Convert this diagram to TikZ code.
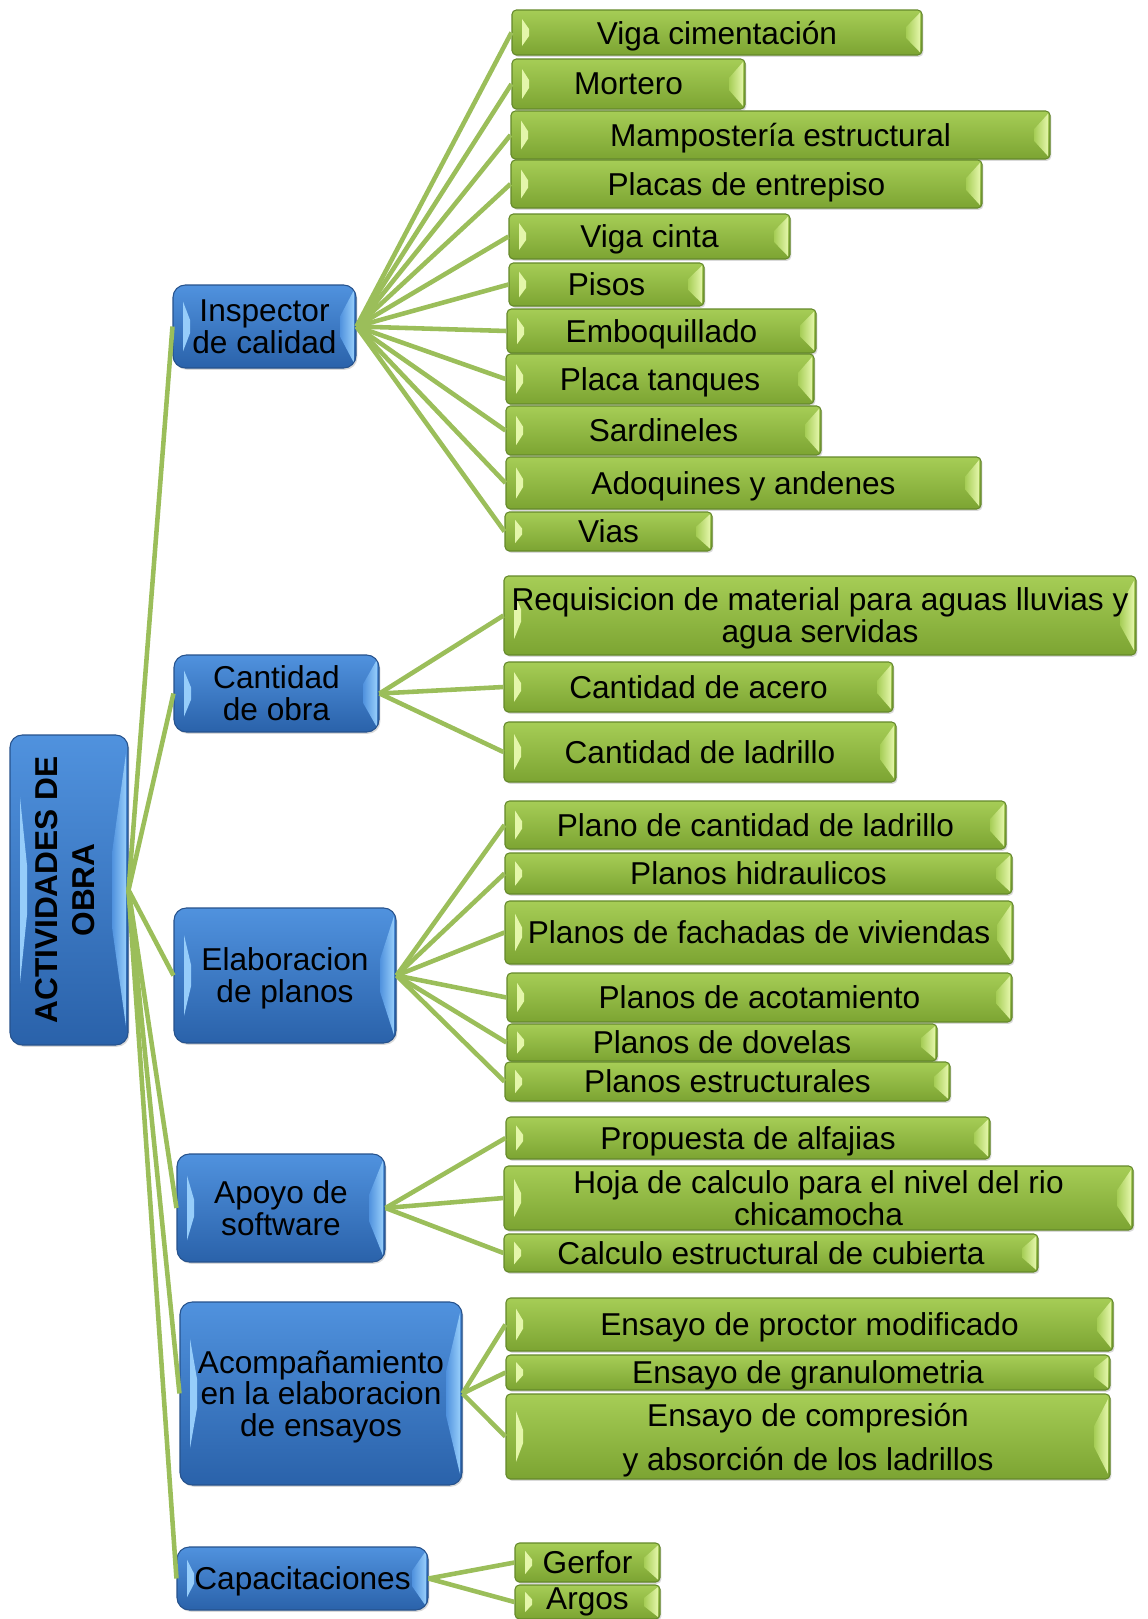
\documentclass[tikz,border=0pt]{standalone}
\usepackage{fontspec}
\setmainfont{Liberation Sans}
\usetikzlibrary{calc,shadows}

\definecolor{azulA}{RGB}{80,146,222}
\definecolor{azulB}{RGB}{42,98,170}
\definecolor{azulborde}{RGB}{38,82,140}
\definecolor{azulluz}{RGB}{150,205,250}
\definecolor{hojaA}{RGB}{166,205,86}
\definecolor{hojaB}{RGB}{124,164,50}
\definecolor{hojaborde}{RGB}{100,136,42}
\definecolor{hojaluz}{RGB}{228,246,170}
\definecolor{verderama}{RGB}{155,190,90}

\tikzset{
  bisel/.style 2 args={path picture={
      \path (path picture bounding box.north west) coordinate (pa)
            (path picture bounding box.south west) coordinate (pb)
            (path picture bounding box.north east) coordinate (pc)
            (path picture bounding box.south east) coordinate (pd);
      \fill[#1, sharp corners] ($(pa)!0.2!(pb)+(10,0)$) -- ($(pa)!0.42!(pb)+(17,0)$)
        -- ($(pa)!0.58!(pb)+(17,0)$) -- ($(pa)!0.8!(pb)+(10,0)$) -- cycle;
      \shade[sharp corners, left color=#2, right color=#1] ($(pc)!0.06!(pd)+(-2,0)$)
        -- ($(pc)!0.94!(pd)+(-2,0)$) -- ($(pc)!0.62!(pd)+(-16,0)$)
        -- ($(pc)!0.38!(pd)+(-16,0)$) -- cycle;
    }},
  wh/.style 2 args={minimum width=#1*0.02cm, minimum height=#2*0.02cm},
  sombra/.style={drop shadow={opacity=0.3, shadow xshift=0.8pt, shadow yshift=-1pt}},
  caja/.style={rounded corners=7pt, draw=azulborde, line width=0.6pt,
    top color=azulA, bottom color=azulB, bisel={azulluz}{azulA}, sombra,
    inner sep=0pt, align=center, text depth=0pt},
  hoja/.style={rounded corners=2.5pt, draw=hojaborde, line width=0.6pt,
    top color=hojaA, bottom color=hojaB, bisel={hojaluz}{hojaA}, sombra,
    inner sep=0pt, align=center, text depth=0pt},
  ramal/.style={draw=verderama, line width=2.6pt}
}

\begin{document}
\begin{tikzpicture}[x=0.02cm, y=-0.02cm, font=\fontsize{18}{18.2}\selectfont]
  \useasboundingbox (0,0) rectangle (1147,1619);

  % raiz
  \node[caja, wh={118}{310}, font=\fontsize{18}{21}\selectfont\bfseries] (raiz) at (69,890)
    {\rotatebox{90}{\begin{tabular}{@{}c@{}}ACTIVIDADES DE\\OBRA\end{tabular}}};

  % actividades
  \node[caja, wh={183}{83}] (insp) at (264.5,326.5) {Inspector\\de calidad};
  \node[caja, wh={205}{77}] (cant) at (276.5,693.5) {Cantidad\\de obra};
  \node[caja, wh={222}{135}] (elab) at (285,975.5) {Elaboracion\\de planos};
  \node[caja, wh={208}{108}] (apoyo) at (281,1208) {Apoyo de\\software};
  \node[caja, wh={282}{183}] (acomp) at (321,1393.5) {Acompañamiento\\en la elaboracion\\de ensayos};
  \node[caja, wh={251}{63}] (capa) at (302.5,1578.5) {Capacitaciones};

  % inspector de calidad
  \node[hoja, wh={410}{45}] (viga) at (717,32.5) {Viga cimentación};
  \node[hoja, wh={233}{50}] (mortero) at (628.5,84) {Mortero};
  \node[hoja, wh={539}{48}] (mamp) at (780.5,135) {Mampostería estructural};
  \node[hoja, wh={471}{48}] (placas) at (746.5,184) {Placas de entrepiso};
  \node[hoja, wh={281}{45}] (cinta) at (649.5,236.5) {Viga cinta};
  \node[hoja, wh={195}{43}] (pisos) at (606.5,284.5) {Pisos};
  \node[hoja, wh={309}{44}] (embo) at (661.5,331) {Emboquillado};
  \node[hoja, wh={308}{50}] (tanques) at (660,379) {Placa tanques};
  \node[hoja, wh={315}{49}] (sardi) at (663.5,430.5) {Sardineles};
  \node[hoja, wh={475}{52}] (adoq) at (743.5,483) {Adoquines y andenes};
  \node[hoja, wh={207}{39}] (vias) at (608.5,531.5) {Vias};

  % cantidad de obra
  \node[hoja, wh={632}{79}] (requi) at (820,615.5) {Requisicion de material para aguas lluvias y\\agua servidas};
  \node[hoja, wh={389}{50}] (acero) at (698.5,687) {Cantidad de acero};
  \node[hoja, wh={392}{60}] (ladri) at (700,752) {Cantidad de ladrillo};

  % elaboracion de planos
  \node[hoja, wh={501}{48}] (pcant) at (755.5,825) {Plano de cantidad de ladrillo};
  \node[hoja, wh={507}{41}] (hidra) at (758.5,873.5) {Planos hidraulicos};
  \node[hoja, wh={508}{63}] (facha) at (759,932.5) {Planos de fachadas de viviendas};
  \node[hoja, wh={505}{49}] (acota) at (759.5,997.5) {Planos de acotamiento};
  \node[hoja, wh={430}{37}] (dove) at (722,1042.5) {Planos de dovelas};
  \node[hoja, wh={445}{39}] (estru) at (727.5,1081.5) {Planos estructurales};

  % apoyo de software
  \node[hoja, wh={484}{42}] (alfa) at (748,1138) {Propuesta de alfajias};
  \node[hoja, wh={629}{64}] (hoja) at (818.5,1198) {Hoja de calculo para el nivel del rio\\chicamocha};
  \node[hoja, wh={534}{38}] (cubi) at (771,1253) {Calculo estructural de cubierta};

  % ensayos
  \node[hoja, wh={607}{53}] (proc) at (809.5,1324.5) {Ensayo de proctor modificado};
  \node[hoja, wh={604}{35}] (granu) at (808,1372.5) {Ensayo de granulometria};
  \node[hoja, wh={604}{85}] (compr) at (808,1436.5) {Ensayo de compresión\\[7pt]y absorción de los ladrillos};

  % capacitaciones
  \node[hoja, wh={145}{39}] (gerfor) at (587.5,1562.5) {Gerfor};
  \node[hoja, wh={145}{34}, text depth=] (argos) at (587.5,1602) {Argos};

  % ramas
  \foreach \a in {insp,cant,elab,apoyo,acomp,capa}
    \draw[ramal] (raiz.east) -- (\a.west);
  \foreach \h in {viga,mortero,mamp,placas,cinta,pisos,embo,tanques,sardi,adoq,vias}
    \draw[ramal] (insp.east) -- (\h.west);
  \foreach \h in {requi,acero,ladri}
    \draw[ramal] (cant.east) -- (\h.west);
  \foreach \h in {pcant,hidra,facha,acota,dove,estru}
    \draw[ramal] (elab.east) -- (\h.west);
  \foreach \h in {alfa,hoja,cubi}
    \draw[ramal] (apoyo.east) -- (\h.west);
  \foreach \h in {proc,granu,compr}
    \draw[ramal] (acomp.east) -- (\h.west);
  \foreach \h in {gerfor,argos}
    \draw[ramal] (capa.east) -- (\h.west);
\end{tikzpicture}
\end{document}
